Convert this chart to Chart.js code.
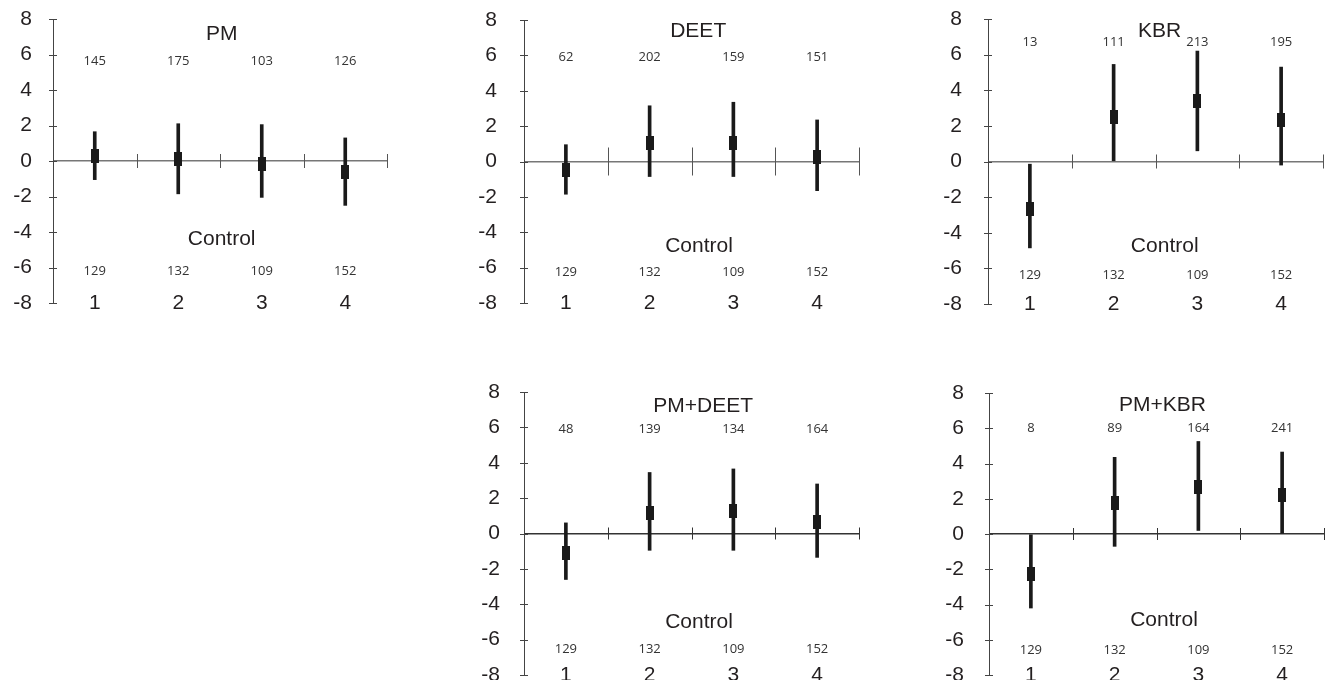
<!DOCTYPE html>
<html>
<head>
<meta charset="utf-8">
<script src="https://cdn.jsdelivr.net/npm/chart.js@4.4.0/dist/chart.umd.min.js"></script>
<style>
  html, body { margin: 0; padding: 0; background: #fff; overflow: hidden; }
  body { width: 1328px; height: 680px; position: relative; }
  .panel { position: absolute; }
</style>
</head>
<body>
<div class="panel" id="box1"><canvas id="c1"></canvas></div>
<div class="panel" id="box2"><canvas id="c2"></canvas></div>
<div class="panel" id="box3"><canvas id="c3"></canvas></div>
<div class="panel" id="box4"><canvas id="c4"></canvas></div>
<div class="panel" id="box5"><canvas id="c5"></canvas></div>
<script>
// data
const categories = ['1', '2', '3', '4'];
const controlN = [129, 132, 109, 152];

const pmN = [145, 175, 103, 126];
const pmMean = [0.3, 0.1, -0.15, -0.6];
const pmLow = [-1.05, -1.85, -2.05, -2.5];
const pmHigh = [1.65, 2.1, 2.05, 1.3];

const deetN = [62, 202, 159, 151];
const deetMean = [-0.5, 1.05, 1.05, 0.25];
const deetLow = [-1.85, -0.85, -0.85, -1.65];
const deetHigh = [0.95, 3.15, 3.35, 2.35];

const kbrN = [13, 111, 213, 195];
const kbrMean = [-2.65, 2.5, 3.4, 2.35];
const kbrLow = [-4.85, 0, 0.6, -0.2];
const kbrHigh = [-0.15, 5.45, 6.2, 5.3];

const pmDeetN = [48, 139, 134, 164];
const pmDeetMean = [-1.1, 1.15, 1.3, 0.65];
const pmDeetLow = [-2.6, -0.95, -0.95, -1.35];
const pmDeetHigh = [0.6, 3.45, 3.65, 2.8];

const pmKbrN = [8, 89, 164, 241];
const pmKbrMean = [-2.25, 1.75, 2.65, 2.2];
const pmKbrLow = [-4.2, -0.7, 0.2, 0];
const pmKbrHigh = [0, 4.35, 5.25, 4.65];

const yMin = -8, yMax = 8, yStep = 2;

const panels = [
  { canvas: 'c1', box: 'box1', title: 'PM', n: pmN, mean: pmMean, low: pmLow, high: pmHigh,
    pos: [3, 4, 389, 313], yPad: 21, tickLen: 7, axisColor: '#777',
    titleX: 1.52, titleY: 7.15, topY: 5.63, controlX: 1.52, controlY: -4.39, bottomY: -6.2 },
  { canvas: 'c2', box: 'box2', title: 'DEET', n: deetN, mean: deetMean, low: deetLow, high: deetHigh,
    pos: [474, 5, 390, 312], yPad: 27, tickLen: 14, axisColor: '#777',
    titleX: 1.58, titleY: 7.39, topY: 5.9, controlX: 1.59, controlY: -4.77, bottomY: -6.25 },
  { canvas: 'c3', box: 'box3', title: 'KBR', n: kbrN, mean: kbrMean, low: kbrLow, high: kbrHigh,
    pos: [938, 4, 390, 314], yPad: 26, tickLen: 7, axisColor: '#777',
    titleX: 1.55, titleY: 7.29, topY: 6.72, controlX: 1.61, controlY: -4.74, bottomY: -6.37 },
  { canvas: 'c4', box: 'box4', title: 'PM+DEET', n: pmDeetN, mean: pmDeetMean, low: pmDeetLow, high: pmDeetHigh,
    pos: [474, 377, 390, 312], yPad: 24, tickLen: 6, axisColor: '#333',
    titleX: 1.64, titleY: 7.19, topY: 5.89, controlX: 1.59, controlY: -5.01, bottomY: -6.54 },
  { canvas: 'c5', box: 'box5', title: 'PM+KBR', n: pmKbrN, mean: pmKbrMean, low: pmKbrLow, high: pmKbrHigh,
    pos: [939, 378, 390, 311], yPad: 25, tickLen: 6, axisColor: '#333',
    titleX: 1.57, titleY: 7.33, topY: 5.97, controlX: 1.59, controlY: -4.89, bottomY: -6.6 }
];

const bigFont = { family: '"Liberation Sans", Arial, sans-serif', size: 21 };
const textColor = '#231f20';

// filled box used as the mean marker
const marker = document.createElement('canvas');
marker.width = 8;
marker.height = 14;
const mctx = marker.getContext('2d');
mctx.fillStyle = '#1a1a1a';
mctx.fillRect(0, 0, 8, 14);

// ticks crossing the zero line and the y axis
const crossTicks = {
  id: 'crossTicks',
  beforeDatasetsDraw(chart, args, o) {
    const { ctx, chartArea: a, scales: { x, y } } = chart;
    const y0 = y.getPixelForValue(0);
    ctx.save();
    ctx.strokeStyle = o.color;
    ctx.lineWidth = 1;
    ctx.beginPath();
    for (let i = 0; i < categories.length; i++) {
      const px = Math.round(x.getPixelForValue(i + 0.5)) + 0.5;
      ctx.moveTo(px, y0 - o.len);
      ctx.lineTo(px, y0 + o.len);
    }
    ctx.stroke();
    ctx.strokeStyle = '#444';
    ctx.beginPath();
    y.ticks.forEach(t => {
      const py = Math.round(y.getPixelForValue(t.value)) + 0.5;
      ctx.moveTo(a.left - 4, py);
      ctx.lineTo(a.left + 4, py);
    });
    ctx.stroke();
    ctx.restore();
  }
};

// panel title, group sizes and "Control"
const panelText = {
  id: 'panelText',
  afterDatasetsDraw(chart, args, o) {
    const { ctx, scales: { x, y } } = chart;
    ctx.save();
    ctx.textAlign = 'center';
    ctx.textBaseline = 'middle';
    ctx.fillStyle = textColor;
    ctx.font = '21px "Liberation Sans", Arial, sans-serif';
    ctx.fillText(o.title, x.getPixelForValue(o.titleX), y.getPixelForValue(o.titleY));
    ctx.fillText('Control', x.getPixelForValue(o.controlX), y.getPixelForValue(o.controlY));
    ctx.font = '13px "Open Sans", sans-serif';
    ctx.fillStyle = '#333';
    o.n.forEach((v, i) => ctx.fillText(String(v), x.getPixelForValue(i), y.getPixelForValue(o.topY)));
    controlN.forEach((v, i) => ctx.fillText(String(v), x.getPixelForValue(i), y.getPixelForValue(o.bottomY)));
    ctx.restore();
  }
};

panels.forEach(p => {
  const box = document.getElementById(p.box);
  box.style.left = p.pos[0] + 'px';
  box.style.top = p.pos[1] + 'px';
  box.style.width = p.pos[2] + 'px';
  box.style.height = p.pos[3] + 'px';

  new Chart(document.getElementById(p.canvas), {
    type: 'bar',
    data: {
      labels: categories,
      datasets: [
        {
          type: 'line',
          data: p.mean,
          showLine: false,
          pointStyle: marker,
          pointRadius: 4,
          order: 0
        },
        {
          type: 'bar',
          data: p.low.map((l, i) => [l, p.high[i]]),
          backgroundColor: '#1a1a1a',
          borderWidth: 0,
          barThickness: 3,
          order: 1
        }
      ]
    },
    options: {
      responsive: true,
      maintainAspectRatio: false,
      animation: false,
      events: [],
      layout: { padding: { left: 0, top: 15, right: 5, bottom: 14 } },
      plugins: {
        legend: { display: false },
        tooltip: { enabled: false },
        crossTicks: { len: p.tickLen, color: p.axisColor === '#333' ? '#333' : '#555' },
        panelText: {
          title: p.title, n: p.n,
          titleX: p.titleX, titleY: p.titleY, topY: p.topY,
          controlX: p.controlX, controlY: p.controlY, bottomY: p.bottomY
        }
      },
      scales: {
        x: {
          type: 'category',
          offset: true,
          grid: { display: false, drawTicks: false },
          border: { display: false },
          // labels sit level with the -8 tick, as in the figure
          ticks: { font: bigFont, color: textColor, mirror: true, padding: -13, maxRotation: 0, autoSkip: false },
          afterFit: s => { s.height = 0; }
        },
        y: {
          min: yMin,
          max: yMax,
          ticks: { stepSize: yStep, font: bigFont, color: textColor, padding: p.yPad },
          grid: {
            drawTicks: false,
            color: c => (c.tick && c.tick.value === 0) ? p.axisColor : 'rgba(0,0,0,0)',
            lineWidth: 1.5
          },
          border: { color: '#444', width: 1 },
          afterFit: s => {
            s.width = 50;
            s.paddingTop = 10;
            s.paddingBottom = 10;
          }
        }
      }
    },
    plugins: [crossTicks, panelText]
  });
});
</script>
</body>
</html>
